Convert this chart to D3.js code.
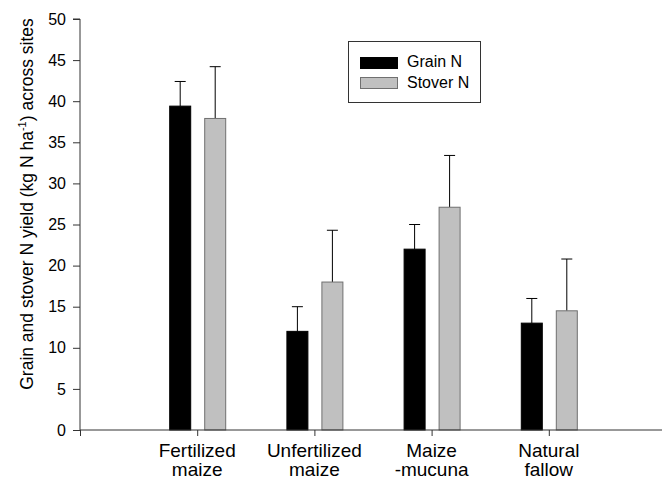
<!DOCTYPE html>
<html>
<head>
<meta charset="utf-8">
<script src="https://cdn.jsdelivr.net/npm/d3@7"></script>
<style>
  body { margin: 0; background: #fff; }
  text { font-family: "Liberation Sans", Arial, sans-serif; fill: #000; }
</style>
</head>
<body>
<div id="vis"></div>
<script>
const categories = [['Fertilized', 'maize'], ['Unfertilized', 'maize'], ['Maize', '-mucuna'], ['Natural', 'fallow']];
const grainN = [39.4, 12, 22, 13];
const grainErr = [3, 3, 3, 3];
const stoverN = [37.9, 18, 27.1, 14.5];
const stoverErr = [6.3, 6.3, 6.3, 6.3];
const yTicks = [0, 5, 10, 15, 20, 25, 30, 35, 40, 45, 50];

const W = 662, H = 478;
const svg = d3.select('#vis').append('svg')
    .attr('width', W).attr('height', H);

const x = d3.scaleLinear().domain([0, 5]).range([80, 666]);
const y = d3.scaleLinear().domain([0, 50]).range([430, 19]);

const barW = 22;
const series = [
    { vals: grainN, err: grainErr, fill: '#000', stroke: '#000', offset: -17 },
    { vals: stoverN, err: stoverErr, fill: '#c0c0c0', stroke: '#707070', offset: 18 }
];

// bars with upper error bars
series.forEach(s => {
    const g = svg.append('g');
    s.vals.forEach((v, i) => {
        const cx = x(i + 1) + s.offset;
        const top = y(v + s.err[i]);
        g.append('line')
            .attr('x1', cx).attr('x2', cx)
            .attr('y1', y(v)).attr('y2', top)
            .attr('stroke', '#000').attr('stroke-width', 1);
        g.append('line')
            .attr('x1', cx - 5.5).attr('x2', cx + 5.5)
            .attr('y1', top).attr('y2', top)
            .attr('stroke', '#000').attr('stroke-width', 1);
        g.append('rect')
            .attr('x', cx - barW / 2 + 0.5)
            .attr('y', y(v))
            .attr('width', barW - 1)
            .attr('height', y(0) - y(v))
            .attr('fill', s.fill)
            .attr('stroke', s.stroke)
            .attr('stroke-width', 1);
    });
});

// axes
const yAxis = d3.axisLeft(y).tickValues(yTicks).tickSize(7).tickPadding(7);
const gy = svg.append('g').attr('transform', 'translate(80,0)').call(yAxis);
gy.select('.domain').attr('d', `M-7,${y(50)}H0V${y(0)}`).attr('stroke', '#333');
gy.selectAll('.tick line').attr('stroke', '#333');
gy.selectAll('.tick text').style('font-size', '16px').style('font-family', '"Liberation Sans", Arial, sans-serif');

const xAxis = d3.axisBottom(x).tickValues([0, 1, 2, 3, 4]).tickSize(6).tickFormat('');
const gx = svg.append('g').attr('transform', `translate(0,${y(0)})`).call(xAxis);
gx.select('.domain').attr('d', `M80,0H${W}`).attr('stroke', '#333');
gx.selectAll('.tick line').attr('stroke', '#333');

// category labels
categories.forEach((lines, i) => {
    const t = svg.append('text')
        .attr('x', x(i + 1))
        .attr('y', 456.5)
        .attr('text-anchor', 'middle')
        .style('font-size', '19px');
    lines.forEach((l, j) => {
        t.append('tspan').attr('x', x(i + 1)).attr('dy', j === 0 ? 0 : 19).text(l);
    });
});

// y title
const yt = svg.append('text')
    .attr('transform', 'translate(33,204) rotate(-90)')
    .attr('text-anchor', 'middle')
    .style('font-size', '17.5px');
yt.append('tspan').text('Grain and stover N yield (kg N ha');
yt.append('tspan').attr('dy', -7).style('font-size', '11px').text('-1');
yt.append('tspan').attr('dy', 7).text(') across sites');

// legend
const legend = svg.append('g');
legend.append('rect')
    .attr('x', 348.5).attr('y', 41.5).attr('width', 132).attr('height', 61)
    .attr('fill', '#fff').attr('stroke', '#333');
const legendItems = [['Grain N', '#000', '#000'], ['Stover N', '#c0c0c0', '#707070']];
legendItems.forEach((d, i) => {
    legend.append('rect')
        .attr('x', 360.5).attr('y', 57.5 + i * 20).attr('width', 37).attr('height', 11)
        .attr('fill', d[1]).attr('stroke', d[2]);
    legend.append('text')
        .attr('x', 407).attr('y', 67 + i * 20.5)
        .style('font-size', '16px')
        .text(d[0]);
});
</script>
</body>
</html>
